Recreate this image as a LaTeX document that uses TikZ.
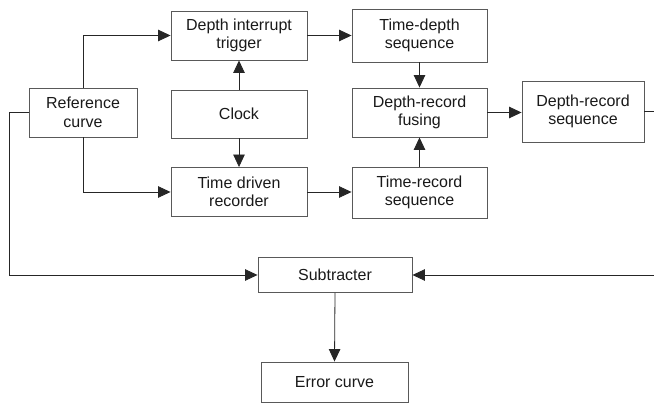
\documentclass[tikz,border=0pt]{standalone}
\usepackage{fontspec}
\setmainfont{Liberation Sans}
\usetikzlibrary{arrows.meta}
\begin{document}
\begin{tikzpicture}[x=1pt,y=-1pt,
  box/.style={draw=black!65, line width=0.9pt, inner sep=0pt, align=center,
    font=\fontsize{16}{18.5}\selectfont, text=black!90},
  link/.style={draw=black!85, line width=0.8pt},
  arr/.style={link, -{Triangle[length=12.5pt,width=11.5pt]}}]
  \clip (0,0) rectangle (654,403);
  \useasboundingbox (0,0) rectangle (654,403);

  % processing blocks
  \node[box, minimum width=108pt, minimum height=49pt] (ref)   at (83,112.5)   {Reference\\curve};
  \node[box, minimum width=136pt, minimum height=49pt] (dit)   at (239,35.5)   {Depth interrupt\\trigger};
  \node[box, minimum width=136pt, minimum height=48pt] (clock) at (239,114)    {Clock};
  \node[box, minimum width=136pt, minimum height=49pt] (tdr)   at (239,192)    {Time driven\\recorder};
  \node[box, minimum width=135pt, minimum height=53pt] (tds)   at (419.5,35.5) {Time-depth\\sequence};
  \node[box, minimum width=135pt, minimum height=49pt] (drf)   at (419.5,112.5){Depth-record\\fusing};
  \node[box, minimum width=135pt, minimum height=51pt] (trs)   at (419.5,192.5){Time-record\\sequence};
  \node[box, minimum width=122pt, minimum height=61pt] (drs)   at (583,111.5)  {Depth-record\\sequence};
  \node[box, minimum width=154pt, minimum height=35pt] (sub)   at (335,275)    {Subtracter};
  \node[box, minimum width=147pt, minimum height=40pt] (err)   at (334.5,382)  {Error curve};

  % return paths to the subtracter
  \coordinate (lt) at (9,275);
  \coordinate (rt) at (662,275);

  % connectors
  \draw[arr] (ref.north) |- (dit.west);
  \draw[arr] (ref.south) |- (tdr.west);
  \draw[arr] (clock.north) -- (dit.south);
  \draw[arr] (clock.south) -- (tdr.north);
  \draw[arr] (dit.east) -- (tds.west);
  \draw[arr] (tdr.east) -- (tdr.east -| trs.west);
  \draw[arr] (tds.south) -- (drf.north);
  \draw[arr] (trs.north) -- (drf.south);
  \draw[arr] (drf.east) -- (drf.east -| drs.west);
  \draw[arr] (ref.west) -| (lt) -- (sub.west);
  \draw[arr] (drs.east) -| (rt) -- (sub.east);
  \draw[arr] (sub.south) -- (err.north);
\end{tikzpicture}
\end{document}
